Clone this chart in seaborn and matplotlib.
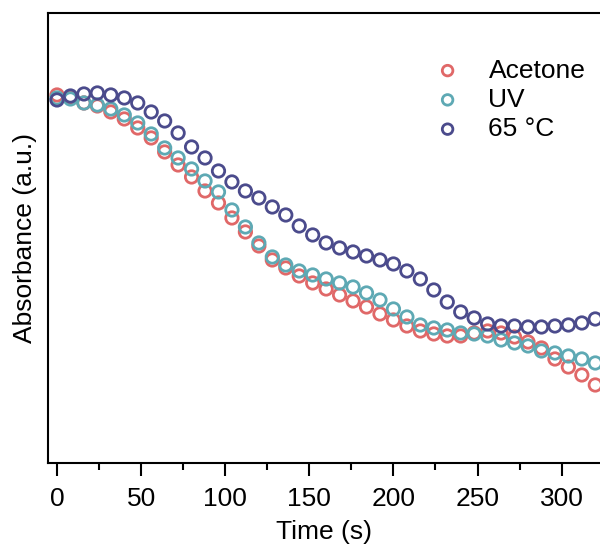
import numpy as np
import pandas as pd
import matplotlib
matplotlib.use('Agg')
import matplotlib.pyplot as plt
import seaborn as sns

# time axis (s), one reading every 8 s
time = list(range(0, 321, 8))

# absorbance (a.u.)
acetone = [368, 365, 360, 357, 351, 344, 335, 325, 311, 298, 286, 272, 260, 245, 231,
           217, 203, 195, 187, 180, 174, 168, 162, 156, 149, 143, 137, 132, 129, 127,
           127, 130, 132, 130, 126, 121, 115, 104, 96, 88, 78]
uv = [365, 364, 360, 358, 354, 348, 340, 329, 315, 305, 294, 282, 271, 253, 236,
      220, 206, 198, 192, 188, 184, 180, 176, 170, 163, 154, 146, 138, 135, 133,
      130, 129, 127, 123, 120, 117, 112, 110, 107, 104, 100]
heat65 = [363, 367, 369, 370, 368, 365, 360, 351, 342, 330, 316, 305, 292, 281, 272,
          265, 256, 248, 237, 228, 220, 215, 211, 207, 203, 199, 192, 184, 173, 161,
          151, 145, 139, 137, 137, 136, 136, 137, 138, 140, 144]

labels = ['Acetone', 'UV', '65 °C']
colors = ['#E06868', '#5EA9B4', '#4B4B8C']
xticks = [0, 50, 100, 150, 200, 250, 300]

sns.set_style('ticks', {'axes.edgecolor': 'black', 'xtick.color': 'black',
                        'text.color': 'black', 'axes.labelcolor': 'black'})
plt.rcParams['font.family'] = ['Liberation Sans', 'DejaVu Sans']

fig = plt.figure(figsize=(6, 5.47), dpi=100)
ax = fig.add_axes([0.08, 0.1536, 0.92, 0.8227])

for series, lab, col in zip([acetone, uv, heat65], labels, colors):
    df = pd.DataFrame({'time': time, 'abs': series})
    sns.scatterplot(data=df, x='time', y='abs', ax=ax, marker='o', s=80,
                    facecolors='none', edgecolors=col, linewidths=2.0, label=lab)

ax.set_xlim(-5.35, 322.8)
ax.set_ylim(0, 450)
ax.set_xticks(xticks)
ax.set_xticks(np.arange(25, 325, 50), minor=True)
ax.set_yticks([])
ax.tick_params(axis='x', which='major', direction='out', length=9, width=1.5,
               labelsize=19, pad=8, colors='black')
ax.tick_params(axis='x', which='minor', direction='out', length=5, width=1.5, colors='black')
for side in ['left', 'bottom', 'top']:
    ax.spines[side].set_linewidth(1.5)
    ax.spines[side].set_color('black')
ax.spines['right'].set_visible(False)

ax.set_xlabel('Time (s)', fontsize=19, labelpad=7, color='black')
ax.set_ylabel('Absorbance (a.u.)', fontsize=19, labelpad=8, color='black')

ax.legend(loc='upper left', bbox_to_anchor=(0.713, 0.893), bbox_transform=fig.transFigure,
          frameon=False, fontsize=19, markerscale=0.85, handlelength=1.5,
          handletextpad=0.8, labelspacing=0.2, borderpad=0, borderaxespad=0)

fig.savefig('out.png', dpi=100)
